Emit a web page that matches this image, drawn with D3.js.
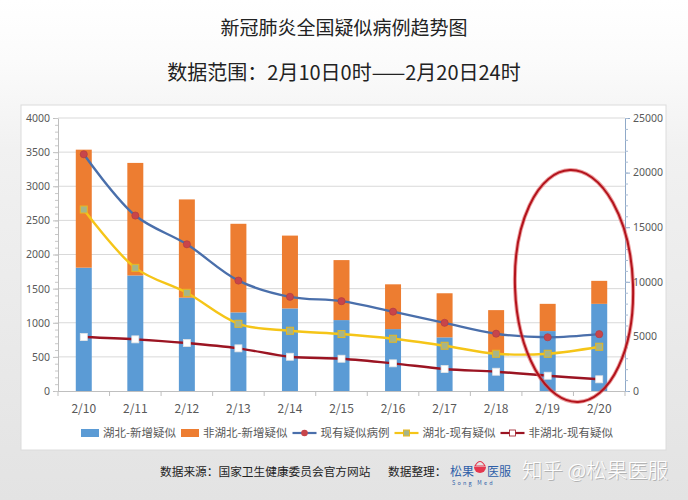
<!DOCTYPE html>
<html><head><meta charset="utf-8">
<script src="https://cdn.jsdelivr.net/npm/d3@7/dist/d3.min.js"></script>
<style>
html,body{margin:0;padding:0;}
body{width:688px;height:500px;overflow:hidden;background:linear-gradient(180deg,#ffffff 0%,#fbfbfb 12%,#f1f1f1 30%,#e9e9e9 70%,#e3e3e3 100%);}
svg{display:block;font-family:"Noto Sans CJK SC","Noto Sans",sans-serif;}
</style></head><body>
<svg id="c" width="688" height="500"></svg>
<script>
const categories = ["2/10","2/11","2/12","2/13","2/14","2/15","2/16","2/17","2/18","2/19","2/20"];
const hubeiNew    = [1807,1693,1368,1152,1210,1039,907,786,551,878,1277];
const nonHubeiNew = [1729,1649,1439,1298,1067,879,656,646,634,399,337];
const totalExisting    = [21675,16067,13435,10109,8626,8228,7264,6242,5248,4922,5206];
const hubeiExisting    = [16620,11278,8992,6156,5516,5214,4784,4144,3412,3412,4052];
const nonHubeiExisting = [4939,4729,4391,3906,3137,2955,2534,2012,1765,1400,1070];
const leftTicks  = [0,500,1000,1500,2000,2500,3000,3500,4000];
const rightTicks = [0,5000,10000,15000,20000,25000];
const seriesNames = ["湖北-新增疑似","非湖北-新增疑似","现有疑似病例","湖北-现有疑似","非湖北-现有疑似"];
const titleText = "新冠肺炎全国疑似病例趋势图";
const subtitleText = "数据范围：2月10日0时——2月20日24时";

const svg = d3.select("#c");
const C = {blue:"#5b9bd5", orange:"#ed7d31", line1:"#4a6fab", line2:"#f5c518", line3:"#9b1422"};

// chart box
svg.append("rect").attr("x",21).attr("y",105).attr("width",645).attr("height",345)
  .attr("fill","#fff").attr("stroke","#dcdcdc").attr("stroke-width",1);

// titles
svg.append("text").attr("x",344).attr("y",35).attr("text-anchor","middle")
  .attr("font-size",19).attr("fill","#222").text(titleText);
svg.append("text").attr("x",344).attr("y",80).attr("text-anchor","middle")
  .attr("font-size",20).attr("fill","#222").text(subtitleText);

const L=58, R=625, T=118, B=391;
const x = d3.scaleBand().domain(categories).range([L,R]).paddingInner(0.69).paddingOuter(0.345);
const yL = d3.scaleLinear().domain([0,4000]).range([B,T]);
const yR = d3.scaleLinear().domain([0,25000]).range([B,T]);

// gridlines
svg.append("g").selectAll("line").data(leftTicks.filter(d=>d>0)).join("line")
  .attr("x1",L).attr("x2",R).attr("y1",d=>yL(d)).attr("y2",d=>yL(d))
  .attr("stroke","#d9d9d9").attr("stroke-width",1);

// bars
const stack = categories.map((c,i)=>({c, h:hubeiNew[i], n:nonHubeiNew[i]}));
svg.append("g").selectAll("rect").data(stack).join("rect")
  .attr("x",d=>x(d.c)).attr("width",x.bandwidth())
  .attr("y",d=>yL(d.h)).attr("height",d=>B-yL(d.h)).attr("fill",C.blue);
svg.append("g").selectAll("rect").data(stack).join("rect")
  .attr("x",d=>x(d.c)).attr("width",x.bandwidth())
  .attr("y",d=>yL(d.h+d.n)).attr("height",d=>yL(d.h)-yL(d.h+d.n)).attr("fill",C.orange);

// x axis
const step = x.step();
svg.append("line").attr("x1",L).attr("x2",R).attr("y1",B+0.5).attr("y2",B+0.5).attr("stroke","#bfbfbf");
svg.append("g").selectAll("line").data(d3.range(categories.length+1)).join("line")
  .attr("x1",i=>L+i*step).attr("x2",i=>L+i*step).attr("y1",B).attr("y2",B+5).attr("stroke","#bfbfbf");
svg.append("g").selectAll("text").data(categories).join("text")
  .attr("x",d=>x(d)+x.bandwidth()/2).attr("y",413).attr("text-anchor","middle")
  .attr("font-size",12).attr("fill","#595959").text(d=>d);

// left axis
const gl = svg.append("g").attr("transform",`translate(${L},0)`)
  .call(d3.axisLeft(yL).tickValues(leftTicks).tickFormat(d3.format("d")).tickSize(5).tickSizeOuter(0).tickPadding(3));
gl.select(".domain").attr("stroke","#bfbfbf");
gl.selectAll(".tick line").attr("stroke","#bfbfbf");
gl.selectAll("text").attr("font-size",10.5).attr("fill","#595959").attr("font-family","'Noto Sans',sans-serif");
svg.append("g").selectAll("line").data(d3.range(0,4001,100)).join("line")
  .attr("x1",L-3).attr("x2",L).attr("y1",d=>yL(d)+0.5).attr("y2",d=>yL(d)+0.5).attr("stroke","#c8c8c8");

// right axis
const gr = svg.append("g").attr("transform",`translate(${R},0)`)
  .call(d3.axisRight(yR).tickValues(rightTicks).tickFormat(d3.format("d")).tickSize(5).tickSizeOuter(0).tickPadding(3));
gr.select(".domain").attr("stroke","#8fa9c8");
gr.selectAll(".tick line").attr("stroke","#8fa9c8");
gr.selectAll("text").attr("font-size",10.5).attr("fill","#595959").attr("font-family","'Noto Sans',sans-serif");
svg.append("g").selectAll("line").data(d3.range(0,25001,1000)).join("line")
  .attr("x1",R).attr("x2",R+3).attr("y1",d=>yR(d)+0.5).attr("y2",d=>yR(d)+0.5).attr("stroke","#a9bcd4");

// lines
const cx = c => x(c)+x.bandwidth()/2;
const lineGen = d3.line().x((d,i)=>cx(categories[i])).y(d=>yR(d)).curve(d3.curveCatmullRom.alpha(0.5));
function drawLine(vals,color,marker){
  svg.append("path").datum(vals).attr("d",lineGen).attr("fill","none")
    .attr("stroke",color).attr("stroke-width",2.4);
  const g = svg.append("g");
  if(marker==="circle"){
    g.selectAll("circle").data(vals).join("circle")
      .attr("cx",(d,i)=>cx(categories[i])).attr("cy",d=>yR(d)).attr("r",3.6)
      .attr("fill","#c8454a").attr("stroke","#b0393e").attr("stroke-width",0.6);
  } else if(marker==="sq1"){
    g.selectAll("rect").data(vals).join("rect")
      .attr("x",(d,i)=>cx(categories[i])-3.5).attr("y",d=>yR(d)-3.5).attr("width",7).attr("height",7)
      .attr("fill","#a5b58a").attr("stroke","#e8b820").attr("stroke-width",1);
  } else {
    g.selectAll("rect").data(vals).join("rect")
      .attr("x",(d,i)=>cx(categories[i])-3.5).attr("y",d=>yR(d)-3.5).attr("width",7).attr("height",7)
      .attr("fill","#fff").attr("stroke","#e6e6e6").attr("stroke-width",0.8);
  }
}
drawLine(totalExisting,C.line1,"circle");
drawLine(hubeiExisting,C.line2,"sq1");
drawLine(nonHubeiExisting,C.line3,"sq2");

// legend (laid out sequentially)
const lg = svg.append("g").attr("font-size",11.5).attr("fill","#595959");
const ly = 433;
const items = [
  {type:"rect", color:C.blue, name:seriesNames[0]},
  {type:"rect", color:C.orange, name:seriesNames[1]},
  {type:"line", color:C.line1, m:"circle", name:seriesNames[2]},
  {type:"line", color:C.line2, m:"sq1", name:seriesNames[3]},
  {type:"line", color:C.line3, m:"sq2", name:seriesNames[4]}
];
let lx = 81;
items.forEach(it=>{
  if(it.type==="rect"){
    lg.append("rect").attr("x",lx).attr("y",ly-4).attr("width",18).attr("height",8).attr("fill",it.color);
    const t = lg.append("text").attr("x",lx+22).attr("y",ly+4.3).text(it.name);
    lx += 22 + t.node().getComputedTextLength() + 5;
  } else {
    const w = 24;
    lg.append("line").attr("x1",lx).attr("x2",lx+w).attr("y1",ly).attr("y2",ly).attr("stroke",it.color).attr("stroke-width",2.2);
    if(it.m==="circle") lg.append("circle").attr("cx",lx+w/2).attr("cy",ly).attr("r",3.3).attr("fill","#c8454a");
    else if(it.m==="sq1") lg.append("rect").attr("x",lx+w/2-3).attr("y",ly-3).attr("width",6).attr("height",6).attr("fill","#a5b58a").attr("stroke","#e8b820");
    else lg.append("rect").attr("x",lx+w/2-3).attr("y",ly-3).attr("width",6).attr("height",6).attr("fill","#fff").attr("stroke",it.color).attr("stroke-width",0.8);
    const t = lg.append("text").attr("x",lx+w+4).attr("y",ly+4.3).text(it.name);
    lx += w + 4 + t.node().getComputedTextLength() + 5;
  }
});

// red ellipse annotation
svg.append("ellipse").attr("cx",574).attr("cy",286).attr("rx",59).attr("ry",116)
  .attr("transform","rotate(-2 574 286)")
  .attr("fill","none").attr("stroke","#e06060").attr("stroke-width",4).attr("opacity",0.6);
svg.append("ellipse").attr("cx",574).attr("cy",286).attr("rx",59).attr("ry",116)
  .attr("transform","rotate(-2 574 286)")
  .attr("fill","none").attr("stroke","#b3131c").attr("stroke-width",2);

// footer
svg.append("text").attr("x",160).attr("y",476).attr("font-size",11.7).attr("fill","#222").text("数据来源：国家卫生健康委员会官方网站");
svg.append("text").attr("x",388).attr("y",476).attr("font-size",11.7).attr("fill","#222").text("数据整理：");
// logo
svg.append("text").attr("x",450).attr("y",476).attr("font-size",12).attr("fill","#2f5fa8").text("松果");
svg.append("path").attr("d","M474,467 h12 a6,6 0 0 1 -12,0 z").attr("fill","#e5384f");
svg.append("path").attr("d","M475,466 q5,-9 10,0 z").attr("fill","none").attr("stroke","#e5384f").attr("stroke-width",1.2);
svg.append("text").attr("x",487).attr("y",476).attr("font-size",12).attr("fill","#2f5fa8").text("医服");
svg.append("text").attr("x",452).attr("y",485).attr("font-size",5.5).attr("fill","#2f5fa8").attr("letter-spacing",2.2).text("Song Med");
// watermark (white text with grey shadow)
svg.append("text").attr("x",523).attr("y",479).attr("font-size",20.5).attr("fill","#a8a8a8")
  .attr("font-weight",300).attr("opacity",0.8).text("知乎 @松果医服");
svg.append("text").attr("x",522).attr("y",478).attr("font-size",20.5).attr("fill","#ffffff")
  .attr("font-weight",300).text("知乎 @松果医服");
</script>
</body></html>
